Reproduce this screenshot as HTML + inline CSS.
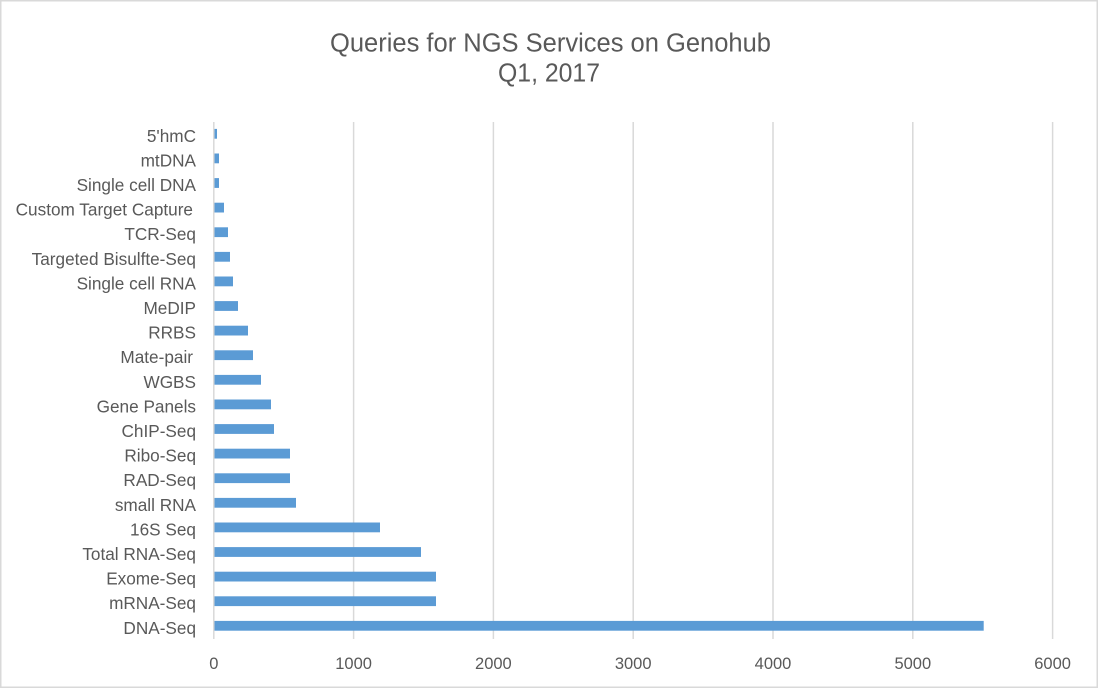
<!DOCTYPE html>
<html><head><meta charset="utf-8"><style>
html,body{margin:0;padding:0;background:#fff;}
svg{display:block;}
text{font-family:"Liberation Sans",sans-serif;fill:#595959;}
</style></head><body>
<svg width="1100" height="689" viewBox="0 0 1100 689" xmlns="http://www.w3.org/2000/svg">
<rect x="0" y="0" width="1100" height="689" fill="#fff"/>
<rect x="0.75" y="0.75" width="1096.5" height="686.5" fill="none" stroke="#d9d9d9" stroke-width="1.5"/>
<text x="550.5" y="51.7" font-size="25.5" text-anchor="middle" textLength="441" lengthAdjust="spacingAndGlyphs">Queries for NGS Services on Genohub</text>
<text x="549" y="81.7" font-size="25.5" text-anchor="middle" textLength="102" lengthAdjust="spacingAndGlyphs">Q1, 2017</text>
<g stroke="#d9d9d9" stroke-width="1.5">
<line x1="213.8" y1="122" x2="213.8" y2="639"/>
<line x1="353.6" y1="122" x2="353.6" y2="639"/>
<line x1="493.4" y1="122" x2="493.4" y2="639"/>
<line x1="633.2" y1="122" x2="633.2" y2="639"/>
<line x1="773" y1="122" x2="773" y2="639"/>
<line x1="912.8" y1="122" x2="912.8" y2="639"/>
<line x1="1052.6" y1="122" x2="1052.6" y2="639"/>
</g>
<g fill="#5b9bd5">
<rect x="214.5" y="128.9" width="2.5" height="9.8"/>
<rect x="214.5" y="153.5" width="4.5" height="9.8"/>
<rect x="214.5" y="178.1" width="4.5" height="9.8"/>
<rect x="214.5" y="202.7" width="9.5" height="9.8"/>
<rect x="214.5" y="227.3" width="13.5" height="9.8"/>
<rect x="214.5" y="251.9" width="15.5" height="9.8"/>
<rect x="214.5" y="276.5" width="18.5" height="9.8"/>
<rect x="214.5" y="301.1" width="23.5" height="9.8"/>
<rect x="214.5" y="325.7" width="33.5" height="9.8"/>
<rect x="214.5" y="350.3" width="38.5" height="9.8"/>
<rect x="214.5" y="374.9" width="46.5" height="9.8"/>
<rect x="214.5" y="399.5" width="56.5" height="9.8"/>
<rect x="214.5" y="424.1" width="59.5" height="9.8"/>
<rect x="214.5" y="448.7" width="75.5" height="9.8"/>
<rect x="214.5" y="473.3" width="75.5" height="9.8"/>
<rect x="214.5" y="497.9" width="81.5" height="9.8"/>
<rect x="214.5" y="522.5" width="165.5" height="9.8"/>
<rect x="214.5" y="547.1" width="206.5" height="9.8"/>
<rect x="214.5" y="571.7" width="221.5" height="9.8"/>
<rect x="214.5" y="596.3" width="221.5" height="9.8"/>
<rect x="214.5" y="620.9" width="769.2" height="9.8"/>
</g>
<g font-size="17.2" text-anchor="end">
<text x="196" y="141.8">5'hmC</text>
<text x="196" y="166.4">mtDNA</text>
<text x="196" y="191">Single cell DNA</text>
<text x="193" y="215.6">Custom Target Capture</text>
<text x="196" y="240.2">TCR-Seq</text>
<text x="196" y="264.8">Targeted Bisulfte-Seq</text>
<text x="196" y="289.4">Single cell RNA</text>
<text x="196" y="314">MeDIP</text>
<text x="196" y="338.6">RRBS</text>
<text x="193" y="363.2">Mate-pair</text>
<text x="196" y="387.8">WGBS</text>
<text x="196" y="412.4">Gene Panels</text>
<text x="196" y="437">ChIP-Seq</text>
<text x="196" y="461.6">Ribo-Seq</text>
<text x="196" y="486.2">RAD-Seq</text>
<text x="196" y="510.8">small RNA</text>
<text x="196" y="535.4">16S Seq</text>
<text x="196" y="560">Total RNA-Seq</text>
<text x="196" y="584.6">Exome-Seq</text>
<text x="196" y="609.2">mRNA-Seq</text>
<text x="196" y="633.8">DNA-Seq</text>
</g>
<g font-size="16.5" text-anchor="middle">
<text x="213.8" y="669">0</text>
<text x="353.6" y="669">1000</text>
<text x="493.4" y="669">2000</text>
<text x="633.2" y="669">3000</text>
<text x="773" y="669">4000</text>
<text x="912.8" y="669">5000</text>
<text x="1052.6" y="669">6000</text>
</g>
</svg>
</body></html>
